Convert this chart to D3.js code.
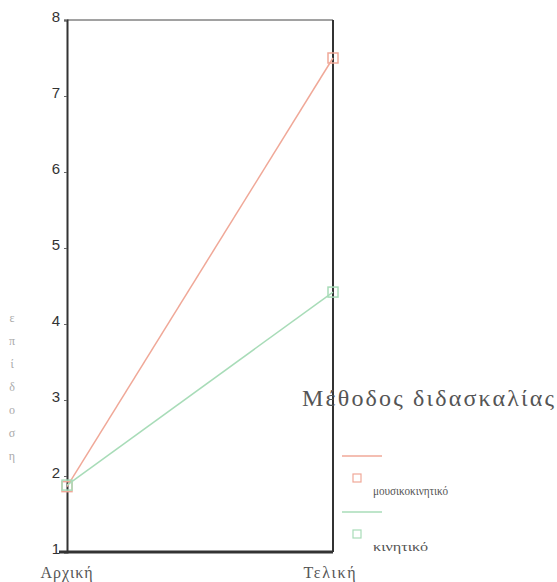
<!DOCTYPE html>
<html><head><meta charset="utf-8">
<script src="https://cdn.jsdelivr.net/npm/d3@7"></script>
<style>body{margin:0;background:#fff}</style>
</head><body>
<svg id="c" width="557" height="582"></svg>
<script>
const categories = ["Αρχική", "Τελική"];
const seriesNames = ["μουσικοκινητικό", "κινητικό"];
const valuesMousiko = [1.86, 7.5];
const valuesKinitiko = [1.88, 4.42];
const yTicks = [1, 2, 3, 4, 5, 6, 7, 8];
const yTitle = "επίδοση";
const legendTitle = "Μέθοδος διδασκαλίας";
const colors = ["#f0a898", "#a8dcb8"];

const svg = d3.select("#c");
const L = 67, R = 333, T = 20, B = 552;
const x = d3.scalePoint().domain(categories).range([L, R]);
const y = d3.scaleLinear().domain([1, 8]).range([B, T]);

// frame
svg.append("line").attr("x1", L).attr("x2", R).attr("y1", T).attr("y2", T).attr("stroke", "#444").attr("stroke-width", 1);
svg.append("line").attr("x1", R).attr("x2", R).attr("y1", T).attr("y2", B).attr("stroke", "#333").attr("stroke-width", 2);

// y axis
const yAxis = d3.axisLeft(y).tickValues(yTicks).tickSize(3).tickPadding(4).tickFormat(d3.format("d"));
const gy = svg.append("g").attr("transform", `translate(${L},0)`).call(yAxis);
gy.select(".domain").attr("stroke", "#333").attr("stroke-width", 2);
gy.selectAll(".tick line").attr("stroke", "#666");
gy.selectAll(".tick text").attr("font-family", "Liberation Sans, Arial, sans-serif").attr("font-size", 15).attr("fill", "#333").attr("dy", "0.1em");

// x axis
const xAxis = d3.axisBottom(x).tickSize(0).tickPadding(15);
const gx = svg.append("g").attr("transform", `translate(0,${B})`).call(xAxis);
gx.select(".domain").attr("stroke", "#333").attr("stroke-width", 3).attr("d", `M${L-8},0H${R}`);
gx.selectAll(".tick text").attr("font-family", "Liberation Serif, Times New Roman, serif").attr("font-size", 16).attr("fill", "#555")
  .attr("textLength", 52).attr("lengthAdjust", "spacing")
  .attr("dx", (d, i) => i === 0 ? -1 : -4);

// y title, stacked letters
const yt = svg.append("text").attr("font-family", "Liberation Serif, serif").attr("font-size", 12).attr("fill", "#aaa").attr("text-anchor", "middle");
Array.from(yTitle).forEach((ch, i) => {
  yt.append("tspan").attr("x", 12).attr("y", 322 + i * 23).text(ch);
});

// lines
const series = [valuesMousiko, valuesKinitiko];
const line = d3.line().x((d, i) => x(categories[i])).y(d => y(d));
series.forEach((vals, s) => {
  svg.append("path").datum(vals).attr("d", line).attr("fill", "none").attr("stroke", colors[s]).attr("stroke-width", 1.5);
  svg.selectAll(null).data(vals).enter().append("rect")
    .attr("x", (d, i) => x(categories[i]) - 5).attr("y", d => y(d) - 5)
    .attr("width", 10).attr("height", 10)
    .attr("fill", "none").attr("stroke", colors[s]).attr("stroke-width", 1.5);
});

// legend
svg.append("text").attr("x", 302).attr("y", 406).attr("font-family", "Liberation Serif, serif").attr("font-size", 24).attr("fill", "#555")
  .attr("textLength", 252).attr("lengthAdjust", "spacing").text(legendTitle);
const itemLen = [75, 55];
seriesNames.forEach((name, s) => {
  const oy = 456 + s * 56;
  svg.append("line").attr("x1", 342).attr("x2", 382).attr("y1", oy).attr("y2", oy).attr("stroke", colors[s]).attr("stroke-width", 1.5);
  svg.append("rect").attr("x", 353).attr("y", oy + 18).attr("width", 8).attr("height", 8).attr("fill", "none").attr("stroke", colors[s]).attr("stroke-width", 1.2);
  svg.append("text").attr("x", 373).attr("y", oy + 39).attr("font-family", "Liberation Serif, serif").attr("font-size", 13).attr("fill", "#555")
    .attr("textLength", itemLen[s]).attr("lengthAdjust", "spacingAndGlyphs").text(name);
});
</script>
</body></html>
